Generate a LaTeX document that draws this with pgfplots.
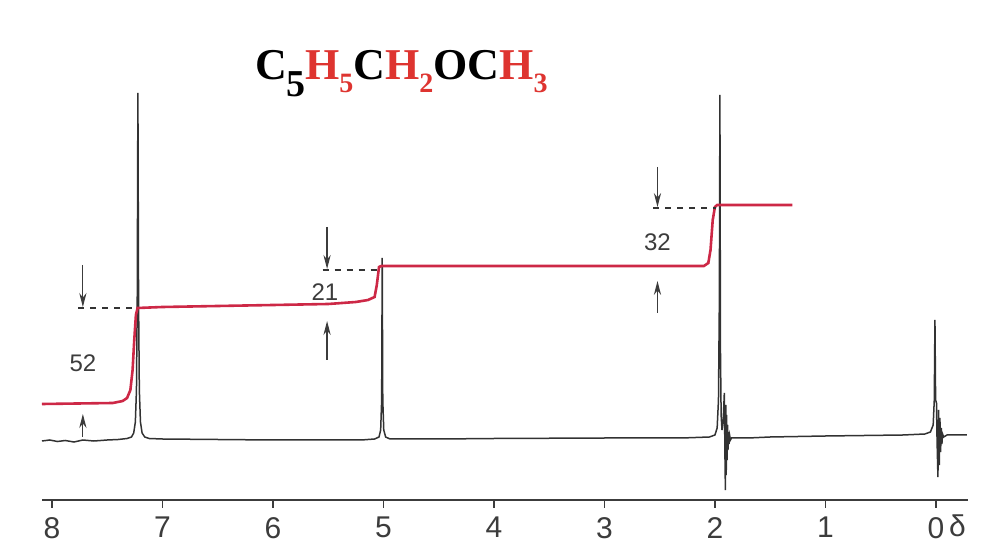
\documentclass[border=0pt]{standalone}
\usepackage{pgfplots}
\pgfplotsset{compat=1.18}
\usepackage{fontspec}
\setmainfont{Liberation Sans}
\newfontfamily\titlefont{Liberation Serif}
\usetikzlibrary{calc,arrows.meta}

\definecolor{integ}{RGB}{205,40,70}
\definecolor{titlered}{RGB}{222,52,48}
\definecolor{trace}{RGB}{50,50,50}
\definecolor{ink}{RGB}{60,60,60}

% 1H NMR trace (height above the delta axis)
\pgfplotstableread{
d y
8.09 59
8.02 60
7.95 58.5
7.88 59.5
7.80 58
7.72 60
7.62 59
7.50 60
7.40 60.5
7.32 61.5
7.28 63
7.26 67
7.245 78
7.235 110
7.228 200
7.222 407
7.216 200
7.209 110
7.199 78
7.184 67
7.16 63
7.12 61.5
7.00 61
6.50 60.5
6.00 60
5.50 60
5.20 60
5.08 61
5.04 63
5.025 70
5.016 100
5.011 242
5.006 100
4.997 70
4.98 63
4.94 61
4.50 61
4.00 61.5
3.00 62
2.30 62
2.05 63
2.00 65
1.98 72
1.968 100
1.960 200
1.955 405
1.950 150
1.944 85
1.936 70
1.925 80
1.915 107
1.908 30
1.905 10
1.902 95
1.898 25
1.894 85
1.890 40
1.886 75
1.882 50
1.878 68
1.872 56
1.866 64
1.860 60
1.850 62
1.70 62
1.50 63
1.00 64
0.30 65
0.10 66
0.05 68
0.025 75
0.015 100
0.009 180
0.003 100
-0.005 97
-0.010 60
-0.018 23
-0.024 90
-0.030 35
-0.036 82
-0.042 48
-0.048 72
-0.054 56
-0.060 66
-0.070 63
-0.10 65
-0.28 65
}\spectrum

% integral curve
\pgfplotstableread{
d y
8.09 96
7.45 97
7.36 99
7.32 102
7.29 110
7.27 130
7.255 160
7.24 185
7.225 192
7.00 193
6.00 195
5.50 196
5.25 198
5.14 200
5.08 203
5.06 215
5.04 233
5.02 234
4.50 234
3.00 234
2.10 234
2.06 237
2.04 250
2.02 280
2.00 293
1.98 295
1.30 295
}\integral

\begin{document}
\begin{tikzpicture}
\begin{axis}[
  scale only axis,
  width=463pt, height=250pt,
  xmin=-0.29, xmax=8.09, x dir=reverse,
  ymin=0, ymax=500,
  axis x line*=bottom, axis y line=none,
  xtick={0,...,8}, tick align=outside, major tick length=4pt,
  x axis line style={line width=1pt, ink},
  xtick style={line width=0.8pt, ink},
  xticklabel style={font=\fontsize{15}{15}\selectfont, text=ink, yshift=-1pt},
  /pgf/number format/assume math mode=true,
  clip=false,
]
\addplot[trace, line width=0.75pt] table[x=d,y=y] {\spectrum};
\addplot[integ, line width=1.3pt] table[x=d,y=y] {\integral};

% reference levels for the integral steps
\addplot[black!80, dashed, line width=0.6pt] coordinates {(7.76,192) (7.22,192)};
\addplot[black!80, dashed, line width=0.6pt] coordinates {(5.55,230) (5.01,230)};
\addplot[black!80, dashed, line width=0.6pt] coordinates {(2.56,292) (1.99,292)};

% step arrows
\tikzset{stp/.style={ink, line width=0.6pt, -{Stealth[length=7pt,width=3.6pt]}}}
\draw[stp] (axis cs:7.72,235) -- (axis cs:7.72,193);
\draw[stp] (axis cs:7.72,63) -- (axis cs:7.72,86);
\draw[stp] (axis cs:5.51,273) -- (axis cs:5.51,231);
\draw[stp] (axis cs:5.51,140) -- (axis cs:5.51,179);
\draw[stp] (axis cs:2.52,333) -- (axis cs:2.52,293);
\draw[stp] (axis cs:2.52,187) -- (axis cs:2.52,219);

\node[font=\fontsize{12}{12}\selectfont, text=ink] at (axis cs:7.72,137) {52};
\node[font=\fontsize{12}{12}\selectfont, text=ink] at (axis cs:5.53,208) {21};
\node[font=\fontsize{12}{12}\selectfont, text=ink] at (axis cs:2.52,258) {32};

\node[font=\fontsize{15}{15}\selectfont, text=ink, anchor=base] at (axis cs:-0.195,-36.5) {δ};

\node[anchor=base west, inner sep=0pt] at (axis cs:6.163,420)
  {\titlefont\bfseries\fontsize{22}{22}\selectfont
   C\makebox[9pt][l]{\hspace{-0.5pt}\raisebox{-8.5pt}{\fontsize{19}{19}\selectfont 5}}%
   \textcolor{titlered}{H\raisebox{-6.5pt}{\fontsize{14}{14}\selectfont 5}}%
   C\textcolor{titlered}{H\raisebox{-6.5pt}{\fontsize{14}{14}\selectfont 2}}%
   OC\textcolor{titlered}{H\raisebox{-6.5pt}{\fontsize{14}{14}\selectfont 3}}};
\end{axis}
\path[use as bounding box] ($(current axis.south west)+(-21pt,-22pt)$) rectangle ($(current axis.north east)+(7pt,0pt)$);
\end{tikzpicture}
\end{document}
